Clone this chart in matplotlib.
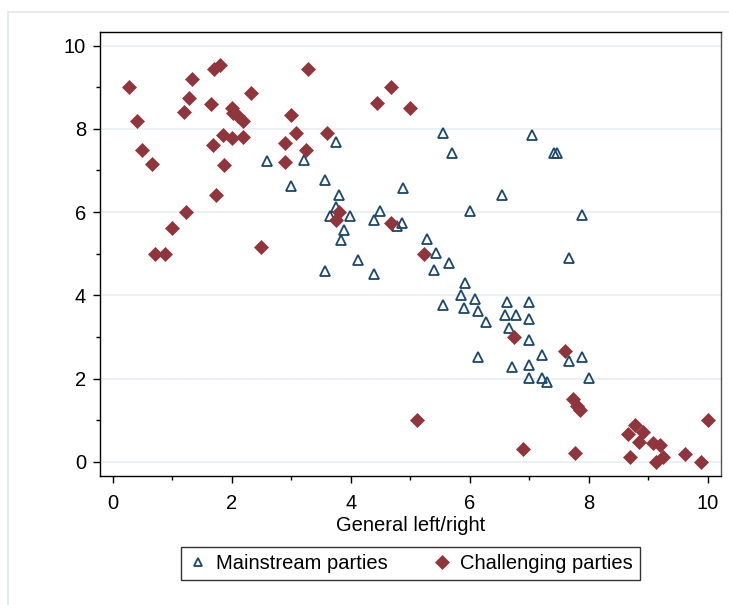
import matplotlib
matplotlib.use("Agg")
import matplotlib.pyplot as plt
from matplotlib.patches import Rectangle
from matplotlib.ticker import MultipleLocator

plt.rcParams['font.family'] = ['Liberation Sans', 'DejaVu Sans']

# Mainstream parties (general left/right, y-axis position)
mainstream_x = [2.60, 3.00, 3.22, 3.57, 3.57, 3.75, 3.80, 3.75, 3.65, 3.99, 3.89, 3.83,
                4.12, 4.40, 4.49, 4.40, 4.77, 4.86, 4.88, 5.28, 5.43, 5.40, 5.55, 5.55,
                5.66, 5.70, 5.92, 5.86, 5.90, 6.00, 6.09, 6.14, 6.14, 6.27, 6.54, 6.62,
                6.59, 6.78, 6.66, 6.71, 7.00, 7.00, 7.00, 7.00, 7.00, 7.04, 7.22, 7.21,
                7.29, 7.41, 7.47, 7.66, 7.67, 7.89, 7.88, 8.00]
mainstream_y = [7.22, 6.62, 7.24, 6.77, 4.59, 7.69, 6.42, 6.12, 5.90, 5.90, 5.57, 5.32,
                4.85, 5.82, 6.02, 4.52, 5.67, 5.73, 6.57, 5.35, 5.02, 4.62, 7.90, 3.77,
                4.78, 7.42, 4.29, 4.02, 3.69, 6.02, 3.92, 3.63, 2.51, 3.36, 6.42, 3.85,
                3.53, 3.53, 3.22, 2.27, 3.83, 3.42, 2.92, 2.32, 2.01, 7.86, 2.57, 2.01,
                1.92, 7.41, 7.41, 4.90, 2.42, 5.92, 2.52, 2.01]

# Challenging parties
challenging_x = [0.28, 0.41, 0.50, 0.66, 0.71, 0.88, 1.00, 1.23, 1.20, 1.28, 1.33, 1.66,
                 1.70, 1.81, 1.69, 1.74, 1.85, 1.88, 2.00, 2.00, 2.03, 2.11, 2.20, 2.20,
                 2.33, 2.50, 2.89, 2.90, 3.00, 3.08, 3.25, 3.29, 3.61, 3.75, 3.80, 4.45,
                 4.67, 4.67, 4.99, 5.12, 5.24, 6.74, 6.90, 7.60, 7.74, 7.80, 7.85, 7.76,
                 8.66, 8.69, 8.77, 8.84, 8.91, 9.08, 9.19, 9.12, 9.25, 9.62, 9.88, 10.00]
challenging_y = [9.00, 8.20, 7.50, 7.16, 5.00, 5.00, 5.62, 6.00, 8.40, 8.75, 9.20, 8.60,
                 9.44, 9.53, 7.62, 6.40, 7.86, 7.12, 8.50, 7.78, 8.38, 8.30, 8.19, 7.80,
                 8.87, 5.17, 7.66, 7.20, 8.33, 7.90, 7.50, 9.44, 7.91, 5.82, 6.00, 8.61,
                 9.00, 5.75, 8.49, 1.00, 5.00, 2.99, 0.30, 2.66, 1.51, 1.35, 1.24, 0.21,
                 0.67, 0.11, 0.89, 0.48, 0.71, 0.45, 0.40, 0.00, 0.11, 0.19, 0.00, 1.00]

navy = '#1a476f'
maroon = '#90353b'

fig = plt.figure(figsize=(7.29, 6.05), dpi=100)
ax = fig.add_axes([100/729, 1 - 476/605, 621/729, 443.7/605])

# light outer frame of the graph region
fig.patches.append(Rectangle((8/729, -0.05), 1.0, 1 - 11.5/605 + 0.05,
                             transform=fig.transFigure, fill=False,
                             edgecolor='#e4ecee', linewidth=1.5))

ax.plot(mainstream_x, mainstream_y, linestyle='none', marker='^', ms=7.6,
        mfc='none', mec=navy, mew=1.3, label='Mainstream parties')
ax.plot(challenging_x, challenging_y, linestyle='none', marker='D', ms=7,
        mfc=maroon, mec=maroon, mew=0.5, label='Challenging parties')

ax.set_xlim(-0.21, 10.22)
ax.set_ylim(-0.34, 10.32)
ax.xaxis.set_major_locator(MultipleLocator(2))
ax.xaxis.set_minor_locator(MultipleLocator(1))
ax.yaxis.set_major_locator(MultipleLocator(2))
ax.yaxis.set_minor_locator(MultipleLocator(1))
ax.tick_params(which='major', length=5, width=1, labelsize=14.5, direction='out')
ax.tick_params(axis='x', which='major', pad=8)
ax.tick_params(axis='y', which='major', pad=5)
ax.tick_params(which='minor', length=3, width=1, direction='out')
ax.yaxis.grid(True, which='major', color='#eaf1f3', linewidth=1.5)
ax.set_axisbelow(True)
for s in ax.spines.values():
    s.set_linewidth(1.0)
ax.spines['right'].set_color('#555555')

ax.set_xlabel('General left/right', fontsize=14.5, labelpad=2)

leg = fig.legend(loc='center', bbox_to_anchor=(410.5/729, 1 - 563.7/605), ncol=2,
                 fontsize=14.5, frameon=True, fancybox=False, edgecolor='black',
                 handletextpad=0.4, columnspacing=2.2, borderpad=0.35,
                 handlelength=1.0)
leg.get_frame().set_linewidth(1.0)
leg.legend_handles[0].set_markersize(5.8)
leg.legend_handles[1].set_markersize(7.5)

fig.savefig('out.png', dpi=100)
